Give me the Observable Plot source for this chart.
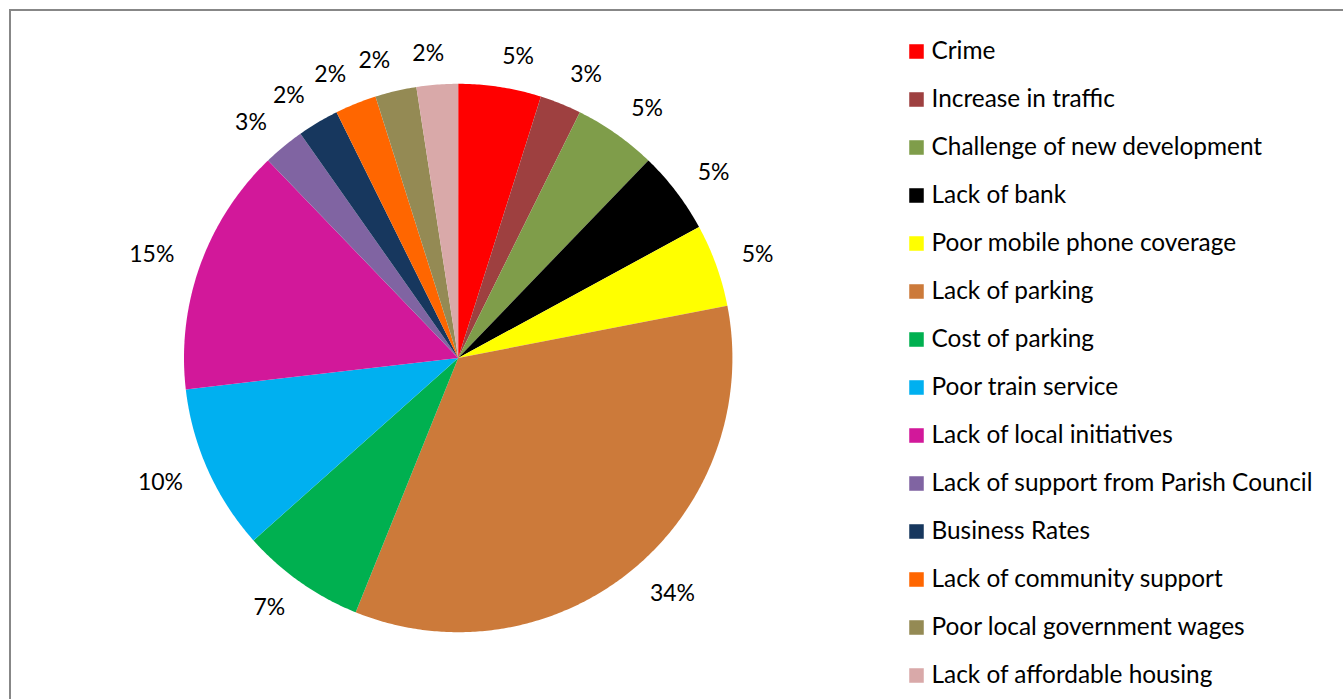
<!DOCTYPE html>
<html>
<head>
<meta charset="utf-8">
<script src="https://cdn.jsdelivr.net/npm/d3@7"></script>
<script src="https://cdn.jsdelivr.net/npm/@observablehq/plot@0.6"></script>
<style>
  html, body { margin: 0; padding: 0; background: #fff; overflow: hidden; }
  #frame { position: absolute; left: 9px; top: 9px; width: 1400px; height: 760px; border: 2px solid #878787; box-sizing: border-box; }
  #pie { position: absolute; left: 0; top: 0; }
  #legend { position: absolute; left: 900px; top: 0; }
  svg text { font-family: Lato, "Open Sans", sans-serif; }
</style>
</head>
<body>
<div id="frame"></div>
<div id="pie"></div>
<div id="legend"></div>
<script>
const categories = [
  "Crime",
  "Increase in traffic",
  "Challenge of new development",
  "Lack of bank",
  "Poor mobile phone coverage",
  "Lack of parking",
  "Cost of parking",
  "Poor train service",
  "Lack of local initiatives",
  "Lack of support from Parish Council",
  "Business Rates",
  "Lack of community support",
  "Poor local government wages",
  "Lack of affordable housing"
];
const counts = [2, 1, 2, 2, 2, 14, 3, 4, 6, 1, 1, 1, 1, 1];
const percentLabels = ["5%", "3%", "5%", "5%", "5%", "34%", "7%", "10%", "15%", "3%", "2%", "2%", "2%", "2%"];
const colors = [
  "#FF0000", "#9E4040", "#7F9D4A", "#000000", "#FFFF00", "#CC7A3A", "#00B050",
  "#00B0F0", "#D2189A", "#8064A2", "#17375E", "#FF6600", "#948A54", "#D9A9A9"
];

// layout
const W = 1343, H = 699;
const xRange = [183.5, 731.9];
const yRange = [631.7, 83.3];
const Rpx = (xRange[1] - xRange[0]) / 2;
const labelFont = 23;

const arcs = d3.pie().sort(null).value((d, i) => counts[i])(categories);

// slice polygons (data space: unit circle)
const polys = [];
arcs.forEach((a) => {
  const cat = a.data;
  polys.push({cat, x: 0, y: 0});
  const n = Math.max(2, Math.ceil((a.endAngle - a.startAngle) / (Math.PI / 360)));
  for (let k = 0; k <= n; k++) {
    const t = a.startAngle + (a.endAngle - a.startAngle) * k / n;
    polys.push({cat, x: Math.sin(t), y: Math.cos(t)});
  }
  polys.push({cat, x: 0, y: 0});
});

// labels placed outside the end of each slice
const clamp1 = (v) => Math.max(-1, Math.min(1, v));
const labels = arcs.map((a, i) => {
  const m = (a.startAngle + a.endAngle) / 2;
  const txt = percentLabels[i];
  const w = 14 * (txt.length - 1) + 16;
  const h = 22;
  const s = Math.sin(m), c = Math.cos(m);
  const dxPx = s * (Rpx + 28) + clamp1(6 * s) * w / 2;
  const dyPx = c * (Rpx + 20) + c * h / 2;
  return {cat: a.data, text: txt, x: dxPx / Rpx, y: dyPx / Rpx};
});

const pie = Plot.plot({
  width: W,
  height: H,
  margin: 0,
  style: {background: "transparent", color: "#000", fontFamily: "Lato, 'Open Sans', sans-serif"},
  x: {domain: [-1, 1], range: xRange, axis: null},
  y: {domain: [-1, 1], range: yRange, axis: null},
  color: {domain: categories, range: colors},
  marks: [
    Plot.line(polys, {x: "x", y: "y", z: "cat", fill: "cat", stroke: "none", curve: "linear"}),
    Plot.text(labels, {x: "x", y: "y", text: "text", fontSize: labelFont, fill: "#000"})
  ]
});
document.getElementById("pie").appendChild(pie);

const legend = Plot.plot({
  width: 443,
  height: H,
  margin: 0,
  style: {background: "transparent", color: "#000", fontFamily: "Lato, 'Open Sans', sans-serif"},
  x: {domain: [0, 1], range: [16, 440], axis: null},
  y: {type: "point", domain: categories, range: [47, 679], padding: 0, axis: null},
  color: {domain: categories, range: colors},
  marks: [
    Plot.dot(categories, {x: 0, y: d => d, fill: d => d, symbol: "square", r: 8.2, stroke: "none"}),
    Plot.text(categories, {x: 0, y: d => d, text: d => d, dx: 15, textAnchor: "start", fontSize: 24.4, fill: "#000"})
  ]
});
document.getElementById("legend").appendChild(legend);
</script>
</body>
</html>
